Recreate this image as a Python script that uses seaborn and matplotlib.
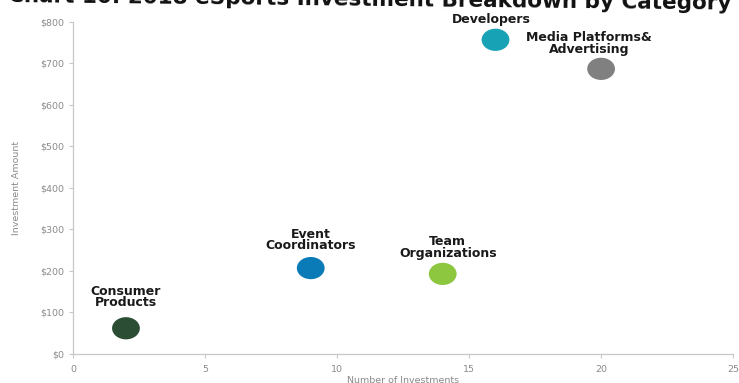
import matplotlib
matplotlib.use("Agg")
import matplotlib.pyplot as plt
from matplotlib.path import Path
from matplotlib.transforms import Affine2D
import seaborn as sns
import pandas as pd

categories = ["Consumer\nProducts", "Event\nCoordinators", "Team\nOrganizations", "Developers", "Media Platforms&\nAdvertising"]
num_investments = [2, 9, 14, 16, 20]
investment_amount = [62, 207, 193, 757, 687]
colors = ["#2b4d33", "#0b7bb8", "#8dc63f", "#17a2b5", "#808080"]
x_ticks = [0, 5, 10, 15, 20, 25]
y_ticks = [0, 100, 200, 300, 400, 500, 600, 700, 800]
y_tick_labels = ["$0", "$100", "$200", "$300", "$400", "$500", "$600", "$700", "$800"]

df = pd.DataFrame({"cat": categories, "n": num_investments, "amt": investment_amount})

sns.set_style("white")
plt.rcParams['font.family'] = ['DejaVu Sans']

fig = plt.figure(figsize=(7.39, 3.83), dpi=100)
ax = fig.add_axes([0.099, 0.0757, 0.893, 0.867])

ellipse = Path.unit_circle().transformed(Affine2D().scale(1.25, 1.0))

sns.scatterplot(data=df, x="n", y="amt", hue="cat", palette=colors, s=400,
                marker=ellipse, edgecolor="none", legend=False, ax=ax)

offsets = [(0, 19), (0, 16), (5, 14), (-4, 14), (-12, 13)]
for c, x, y, off in zip(categories, num_investments, investment_amount, offsets):
    ax.annotate(c, (x, y), xytext=off, textcoords="offset pixels",
                ha="center", va="bottom", fontsize=9.0, fontweight="bold",
                color="#1a1a1a", linespacing=0.85)

ax.set_xlim(0, 25)
ax.set_ylim(0, 800)
ax.set_xticks(x_ticks)
ax.set_yticks(y_ticks)
ax.set_yticklabels(y_tick_labels)
ax.tick_params(axis="both", labelsize=6.8, labelcolor="#8a8a8a", color="#c8c8c8",
               length=3, width=0.8, direction="out", left=True, bottom=True)
ax.tick_params(axis="x", pad=5)
for side in ["top", "right"]:
    ax.spines[side].set_visible(False)
for side in ["left", "bottom"]:
    ax.spines[side].set_color("#c8c8c8")
    ax.spines[side].set_linewidth(0.9)
ax.set_xlabel("Number of Investments", fontsize=6.8, color="#8a8a8a", labelpad=1)
ax.set_ylabel("Investment Amount", fontsize=6.8, color="#8a8a8a", labelpad=14)

fig.text(0.5, 1 - 6 / 383, "Chart 10: 2018 eSports Investment Breakdown by Category",
         ha="center", va="baseline", fontsize=15.5, fontweight="bold", color="#111111",
         rotation=-0.6, rotation_mode="anchor")

fig.savefig("out.png", dpi=100)
